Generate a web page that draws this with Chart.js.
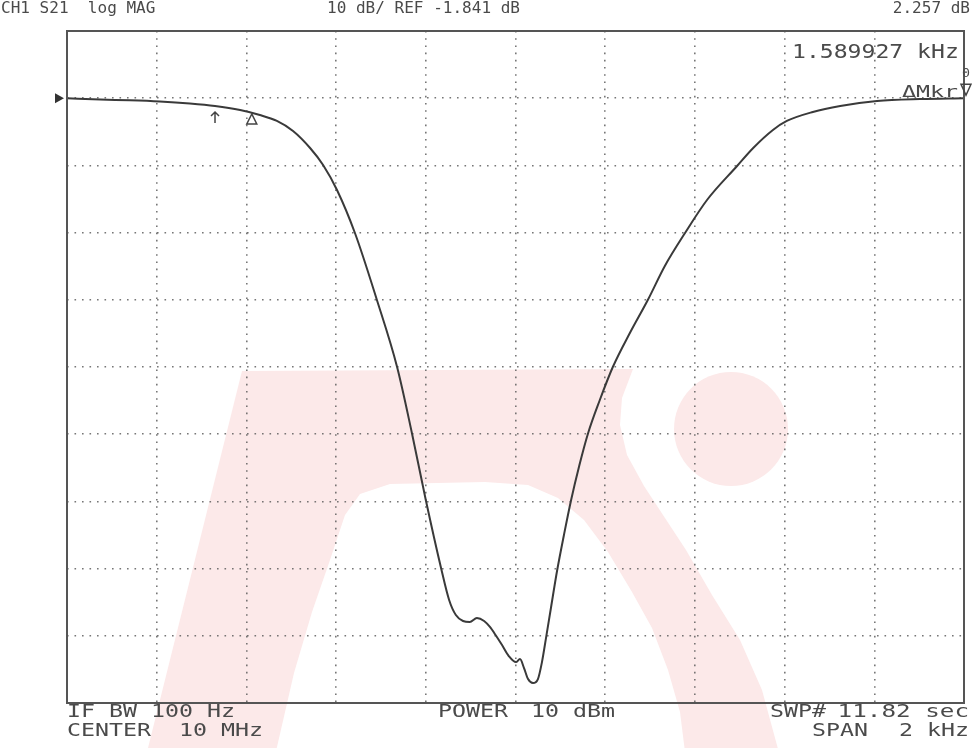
<!DOCTYPE html>
<html>
<head>
<meta charset="utf-8">
<script src="https://cdn.jsdelivr.net/npm/chart.js@4.4.1/dist/chart.umd.min.js"></script>
<style>
  html, body { margin: 0; padding: 0; background: #ffffff; }
  #c { display: block; }
</style>
</head>
<body>
<canvas id="c" width="972" height="748"></canvas>
<script>
// ---- data (frequency offset from 10 MHz centre, Hz; S21 in dB) ----
const freqOffsetHz = [
  -1000, -926, -860, -793, -726, -670, -614, -570, -532, -496, -458, -429, -398, -358,
  -309, -264, -231, -200, -166, -148, -133, -117, -102, -86, -70, -57, -43, -30, -15,
  1, 10, 19, 28, 39, 50, 59, 68, 79, 93, 108, 124, 142, 162, 188, 217, 255, 295, 333,
  378, 427, 494, 530, 574, 605, 663, 724, 806, 902, 1000
];
const s21dB = [
  -1.84, -2.04, -2.15, -2.33, -2.63, -3.00, -3.60, -4.34, -5.23, -6.72, -9.25, -11.78, -15.50, -21.90,
  -31.87, -41.84, -51.66, -61.63, -71.75, -76.51, -78.75, -79.64, -79.79, -79.20, -79.64, -80.53, -81.87, -83.22, -84.85,
  -85.75, -85.30, -86.64, -88.28, -88.87, -88.28, -85.75, -82.18, -77.70, -72.05, -66.84, -61.63, -56.57, -51.66, -46.75, -41.84, -36.78, -31.87, -26.81,
  -21.90, -16.99, -11.93, -9.25, -6.57, -5.23, -3.89, -3.00, -2.26, -1.96, -1.84
];
// grid: 200 Hz/div across a 2 kHz span, 10 dB/div with REF -1.841 dB one division below the top
const xGridHz = [-1000, -800, -600, -400, -200, 0, 200, 400, 600, 800, 1000];
const yGridDb = [8.159, -1.841, -11.841, -21.841, -31.841, -41.841, -51.841, -61.841, -71.841, -81.841, -91.841];
const refLevelDb = -1.841;
// markers
const markerArrowHz = [-670];
const markerArrowDb = [-3.0];
const markerDeltaHz = [-588];
const markerDeltaDb = [-3.9];
const markerEndHz = [1000];
const markerEndDb = [-1.84];
// annotation texts
const headerTexts = ["CH1 S21  log MAG", "10 dB/ REF -1.841 dB", "2.257 dB"];
const footerTexts = ["IF BW 100 Hz", "CENTER  10 MHz", "POWER", "10 dBm", "SWP#", "11.82 sec", "SPAN", "2 kHz"];
const markerReadout = "1.589927 kHz";
const markerLabel = "\u0394Mkr";

const INK = '#4a4a4a';
const FONT = '"DejaVu Sans Mono", "Liberation Mono", monospace';

function txt(ctx, s, x, y, size, pitch, align) {
  ctx.save();
  ctx.font = size + 'px ' + FONT;
  ctx.fillStyle = INK;
  ctx.textBaseline = 'alphabetic';
  ctx.textAlign = 'left';
  const natural = ctx.measureText(s).width;
  const w = pitch * s.length;
  const sx = w / natural;
  const x0 = align === 'right' ? x - w : x;
  ctx.translate(x0, y);
  ctx.scale(sx, 1);
  ctx.fillText(s, 0, 0);
  ctx.restore();
}

function poly(ctx, pts) {
  ctx.moveTo(pts[0][0], pts[0][1]);
  for (let i = 1; i < pts.length; i++) ctx.lineTo(pts[i][0], pts[i][1]);
  ctx.closePath();
}

const backgroundPlugin = {
  id: 'scanBackground',
  beforeDraw(chart) {
    const ctx = chart.ctx;
    ctx.save();
    ctx.fillStyle = '#ffffff';
    ctx.fillRect(0, 0, chart.width, chart.height);
    // faint watermark of the scanned sheet
    ctx.fillStyle = '#fce9e9';
    ctx.beginPath();
    poly(ctx, [[145, 760], [242, 371], [633, 369], [622, 398], [620, 425], [627, 455], [644, 486],
               [663, 515], [686, 550], [712, 595], [740, 640], [762, 690], [781, 760]]);
    poly(ctx, [[274, 760], [294, 673], [312, 612], [330, 560], [345, 515], [360, 494], [390, 484],
               [485, 482], [528, 485], [558, 498], [584, 520], [608, 552], [632, 592], [652, 628],
               [668, 670], [680, 712], [686, 760]]);
    ctx.fill('evenodd');
    ctx.beginPath();
    ctx.arc(731, 429, 57, 0, Math.PI * 2);
    ctx.fill();
    ctx.restore();
  },
  afterDraw(chart) {
    const ctx = chart.ctx;
    const a = chart.chartArea;
    const xs = chart.scales.x, ys = chart.scales.y;
    ctx.save();
    // frame
    ctx.strokeStyle = '#555555';
    ctx.lineWidth = 2;
    ctx.strokeRect(a.left, a.top, a.right - a.left, a.bottom - a.top);
    // REF arrow at left edge
    const ry = ys.getPixelForValue(refLevelDb);
    ctx.fillStyle = '#333333';
    ctx.beginPath();
    ctx.moveTo(a.left - 3, ry);
    ctx.lineTo(a.left - 12, ry - 5);
    ctx.lineTo(a.left - 12, ry + 5);
    ctx.closePath();
    ctx.fill();
    // arrow marker
    ctx.strokeStyle = '#444444';
    ctx.lineWidth = 1.5;
    for (let i = 0; i < markerArrowHz.length; i++) {
      const mx = xs.getPixelForValue(markerArrowHz[i]);
      const my = ys.getPixelForValue(markerArrowDb[i]);
      ctx.beginPath();
      ctx.moveTo(mx, my + 6); ctx.lineTo(mx, my + 17);
      ctx.moveTo(mx - 4, my + 10); ctx.lineTo(mx, my + 6); ctx.lineTo(mx + 4, my + 10);
      ctx.stroke();
    }
    // delta reference marker (triangle)
    for (let i = 0; i < markerDeltaHz.length; i++) {
      const mx = xs.getPixelForValue(markerDeltaHz[i]);
      const my = ys.getPixelForValue(markerDeltaDb[i]);
      ctx.beginPath();
      ctx.moveTo(mx, my + 2); ctx.lineTo(mx - 5, my + 12); ctx.lineTo(mx + 5, my + 12);
      ctx.closePath();
      ctx.stroke();
    }
    // active marker at right edge (inverted triangle) with its number
    for (let i = 0; i < markerEndHz.length; i++) {
      const mx = xs.getPixelForValue(markerEndHz[i]) + 2;
      const my = ys.getPixelForValue(markerEndDb[i]);
      ctx.beginPath();
      ctx.moveTo(mx, my - 3); ctx.lineTo(mx - 5, my - 14); ctx.lineTo(mx + 5, my - 14);
      ctx.closePath();
      ctx.stroke();
      txt(ctx, '0', mx - 4, my - 21, 13, 8, 'left');
    }
    ctx.restore();

    // texts
    txt(ctx, headerTexts[0], 1, 13, 16, 9.65, 'left');
    txt(ctx, headerTexts[1], 327, 13, 16, 9.65, 'left');
    txt(ctx, headerTexts[2], 970, 13, 16, 9.65, 'right');
    txt(ctx, markerReadout, 792, 58, 19.5, 13.9, 'left');
    txt(ctx, markerLabel, 902, 97, 16.5, 14, 'left');
    txt(ctx, footerTexts[0], 67, 717, 17.5, 14, 'left');
    txt(ctx, footerTexts[1], 67, 736, 17.5, 14, 'left');
    txt(ctx, footerTexts[2], 438, 717, 17.5, 14, 'left');
    txt(ctx, footerTexts[3], 531, 717, 17.5, 14, 'left');
    txt(ctx, footerTexts[4], 770, 717, 17.5, 14, 'left');
    txt(ctx, footerTexts[5], 969, 717, 17.5, 14.6, 'right');
    txt(ctx, footerTexts[6], 812, 736, 17.5, 14, 'left');
    txt(ctx, footerTexts[7], 969, 736, 17.5, 14, 'right');
  }
};

const gridColor = 'rgba(95,95,95,0.85)';

new Chart(document.getElementById('c'), {
  type: 'line',
  data: {
    datasets: [{
      label: 'S21',
      data: freqOffsetHz.map((f, i) => ({ x: f, y: s21dB[i] })),
      borderColor: '#3a3a3a',
      borderWidth: 2,
      pointRadius: 0,
      cubicInterpolationMode: 'monotone',
      fill: false
    }]
  },
  options: {
    responsive: false,
    animation: false,
    devicePixelRatio: 1,
    layout: { padding: { left: 67, top: 31, right: 8, bottom: 45 } },
    plugins: { legend: { display: false }, tooltip: { enabled: false } },
    scales: {
      x: {
        type: 'linear',
        min: xGridHz[0],
        max: xGridHz[xGridHz.length - 1],
        afterBuildTicks: (s) => { s.ticks = xGridHz.map(v => ({ value: v })); },
        ticks: { display: false },
        grid: { color: gridColor, lineWidth: 1.6, drawTicks: false },
        border: { display: false, dash: [1.6, 5.6] }
      },
      y: {
        type: 'linear',
        min: yGridDb[yGridDb.length - 1],
        max: yGridDb[0],
        afterBuildTicks: (s) => { s.ticks = yGridDb.map(v => ({ value: v })); },
        ticks: { display: false },
        grid: { color: gridColor, lineWidth: 1.6, drawTicks: false },
        border: { display: false, dash: [1.6, 5.9] }
      }
    }
  },
  plugins: [backgroundPlugin]
});
</script>
</body>
</html>
